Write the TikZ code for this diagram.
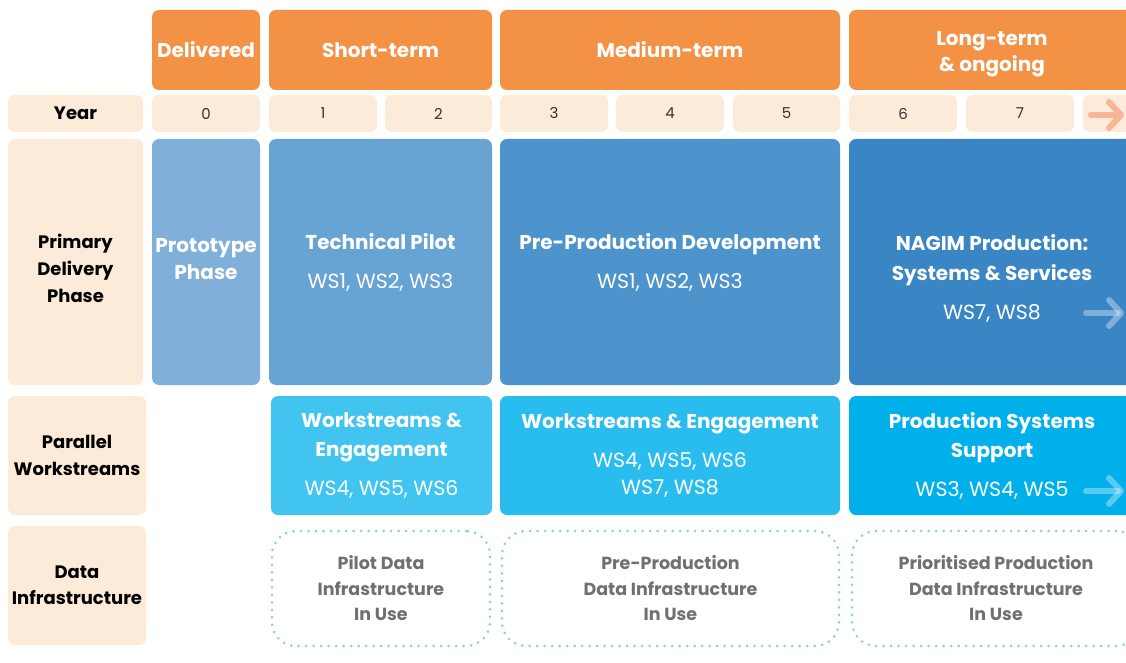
\documentclass[tikz,border=0pt]{standalone}
\usepackage{fontspec}
\setmainfont{Poppins}
\usetikzlibrary{arrows.meta}

\definecolor{headorange}{RGB}{243,145,69}
\definecolor{peach}{RGB}{253,235,217}
\definecolor{protoblue}{RGB}{128,176,217}
\definecolor{pilotblue}{RGB}{103,164,211}
\definecolor{preblue}{RGB}{78,148,204}
\definecolor{prodblue}{RGB}{58,134,197}
\definecolor{wsone}{RGB}{66,196,240}
\definecolor{wstwo}{RGB}{40,189,238}
\definecolor{wsthree}{RGB}{0,176,235}
\definecolor{dotblue}{RGB}{145,205,235}
\definecolor{infogray}{RGB}{112,112,112}
\definecolor{arroworange}{RGB}{248,182,150}

\newcommand{\wslist}[1]{{\fontsize{20.5}{29}\selectfont #1}}

\begin{document}
\begin{tikzpicture}[
    x=1pt, y=-1pt,
    cell/.style 2 args={
        rectangle,
        rounded corners=7pt,
        inner sep=0pt,
        align=center,
        minimum width=#1pt,
        minimum height=#2pt
    },
    head/.style={
        fill=headorange,
        text=white,
        font=\bfseries\fontsize{20}{26}\selectfont
    },
    rowlabel/.style={
        fill=peach,
        text=black,
        font=\bfseries\fontsize{18}{27}\selectfont
    },
    year/.style={
        fill=peach,
        text=black!80,
        font=\fontsize{15}{20}\selectfont
    },
    phase/.style={
        text=white,
        font=\fontsize{20}{29}\selectfont
    },
    infra/.style={
        draw=dotblue,
        line width=3pt,
        dash pattern=on 0pt off 7.5pt,
        line cap=round,
        rounded corners=24pt,
        text=infogray,
        font=\bfseries\fontsize{17.5}{25.5}\selectfont
    },
    more/.style={
        line width=6pt,
        line cap=round,
        -{Straight Barb[length=12pt, width=26pt, round]}
    }
]
    \useasboundingbox (0,0) rectangle (1126,663);
    \clip (0,0) rectangle (1126,663);

    % Time horizon headers
    \node[cell={108}{80}, head] (delivered) at (206,50) {Delivered};
    \node[cell={223}{80}, head] (short) at (380.5,50) {Short-term};
    \node[cell={340}{80}, head] (medium) at (670,50) {Medium-term};
    \node[cell={286}{80}, head] (long) at (992,50) {\mbox{}\\[-4pt]Long-term\\[0pt]\& ongoing};

    % Year row
    \node[cell={135}{37}, rowlabel] (yearlabel) at (75.5,113.5) {Year};
    \node[cell={108}{37}, year] (y0) at (206,113.5) {0};
    \node[cell={108}{37}, year] (y1) at (323,113.5) {1};
    \node[cell={107}{37}, year] (y2) at (438.5,113.5) {2};
    \node[cell={108}{37}, year] (y3) at (554,113.5) {3};
    \node[cell={108}{37}, year] (y4) at (670,113.5) {4};
    \node[cell={107}{37}, year] (y5) at (786.5,113.5) {5};
    \node[cell={108}{37}, year] (y6) at (903,113.5) {6};
    \node[cell={108}{37}, year] (y7) at (1020,113.5) {7};
    \node[cell={108}{37}, year] (ynext) at (1137,113.5) {};

    % Primary delivery phase
    \node[cell={135}{246}, rowlabel] (primary) at (75.5,262) {\mbox{}\\[0pt]Primary\\Delivery\\Phase};
    \node[cell={108}{246}, phase, fill=protoblue] (proto) at (206,262) {\textbf{Prototype}\\[-2pt]\textbf{Phase}\\[-22pt]\mbox{}};
    \node[cell={223}{246}, phase, fill=pilotblue] (pilot) at (380.5,262) {\textbf{Technical Pilot}\\[10pt]\wslist{WS1, WS2, WS3}};
    \node[cell={340}{246}, phase, fill=preblue] (preprod) at (670,262) {\textbf{Pre-Production Development}\\[10pt]\wslist{WS1, WS2, WS3}};
    \node[cell={286}{246}, phase, fill=prodblue] (nagim) at (992,262) {\mbox{}\\[19pt]\textbf{NAGIM Production:}\\[1pt]\textbf{Systems \& Services}\\[10pt]\wslist{WS7, WS8}};

    % Parallel workstreams
    \node[cell={138}{119}, rowlabel] (parallel) at (77,455.5) {Parallel\\Workstreams};
    \node[cell={221}{119}, phase, fill=wsone] (wsshort) at (381.5,455.5) {\textbf{Workstreams \&}\\\textbf{Engagement}\\[10pt]\wslist{WS4, WS5, WS6}};
    \node[cell={340}{119}, phase, fill=wstwo] (wsmedium) at (670,455.5) {\textbf{Workstreams \& Engagement}\\[10pt]\wslist{WS4, WS5, WS6}\\[-2pt]\wslist{WS7, WS8}};
    \node[cell={286}{119}, phase, fill=wsthree] (wslong) at (992,455.5) {\textbf{Production Systems}\\\textbf{Support}\\[10pt]\wslist{WS3, WS4, WS5}};

    % Data infrastructure
    \node[cell={138}{119}, rowlabel] (data) at (77,585.5) {Data\\[-1pt]Infrastructure};
    \node[cell={218}{115}, infra] (pilotdata) at (381,588.5) {Pilot Data\\Infrastructure\\In Use};
    \node[cell={337}{115}, infra] (predata) at (670.5,588.5) {Pre-Production\\Data Infrastructure\\In Use};
    \node[cell={288}{115}, infra] (proddata) at (996,588.5) {Prioritised Production\\Data Infrastructure\\In Use};

    % Continuation arrows at the right edge
    \coordinate (yearend) at (1124,115);
    \coordinate (nagimend) at (1124,313);
    \coordinate (wsend) at (1124,491);
    \draw[more, arroworange] ([xshift=8pt]ynext.west |- yearend) -- (yearend);
    \draw[more, white, opacity=0.35] ([xshift=-38pt]nagimend) -- (nagimend);
    \draw[more, white, opacity=0.35] ([xshift=-38pt]wsend) -- (wsend);
\end{tikzpicture}
\end{document}
